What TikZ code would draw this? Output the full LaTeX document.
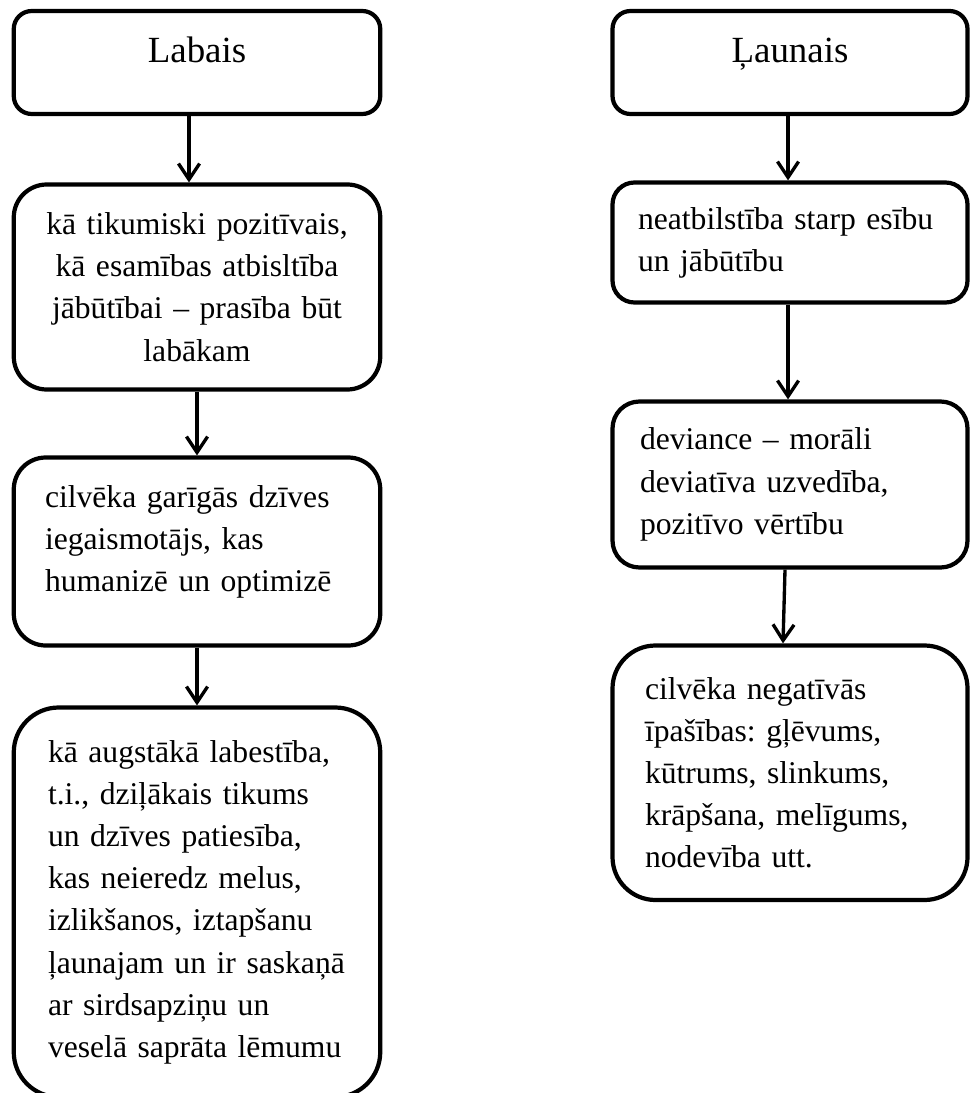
\documentclass[tikz,border=0pt]{standalone}
\usepackage{fontspec}
\setmainfont{Liberation Serif}
\usetikzlibrary{arrows.meta}
\usetikzlibrary{positioning}

\begin{document}
\begin{tikzpicture}[->,>={Straight Barb[length=9pt,width=12pt]},line width=1.9pt]

            % Define styles
            \tikzstyle{head} = [rectangle, draw, line width=2.4pt, rounded corners=0.36cm, text centered, minimum height=2.06cm, font=\fontsize{21}{25}\selectfont, text height=14pt, text depth=14pt]
            \tikzstyle{leftbox} = [rectangle, draw, line width=2.4pt, minimum width=7.33cm, font=\fontsize{18}{24}\selectfont\frenchspacing]
            \tikzstyle{rightbox} = [rectangle, draw, line width=2.4pt, minimum width=7.1cm, font=\fontsize{18}{24}\selectfont\frenchspacing]

            \useasboundingbox (0,0) rectangle (19.4,-21.86);

            % Labais
            \node[head, minimum width=7.33cm] (labais) at (3.94, -1.25) {Labais};
            \node[leftbox, rounded corners=0.66cm, minimum height=4.1cm, text width=7cm, align=center] (pozitivais) at (3.94, -5.74) {kā tikumiski pozitīvais,\\ kā esamības atbisltība\\ jābūtībai – prasība būt\\ labākam};
            \node[leftbox, rounded corners=0.64cm, minimum height=3.76cm, text width=6.08cm, align=left, text depth=63pt] (garigas) at (3.94, -11.03) {cilvēka garīgās dzīves\\ iegaismotājs, kas\\ humanizē un optimizē};
            \node[leftbox, rounded corners=0.9cm, minimum height=7.79cm, text width=5.96cm, align=left] (labestiba) at (3.94, -18.045) {kā augstākā labestība,\\ t.i., dziļākais tikums\\ un dzīves patiesība,\\ kas neieredz melus,\\ izlikšanos, iztapšanu\\ ļaunajam un ir saskaņā\\ ar sirdsapziņu un\\ veselā saprāta lēmumu};

            % Ļaunais
            \node[head, minimum width=7.1cm] (launais) at (15.8, -1.25) {Ļaunais};
            \node[rightbox, rounded corners=0.44cm, minimum height=2.4cm, text width=6.08cm, align=left] (neatbilstiba) at (15.8, -4.85) {neatbilstība starp esību\\ un jābūtību};
            \node[rightbox, rounded corners=0.54cm, minimum height=3.32cm, text width=6cm, align=left] (deviance) at (15.8, -9.69) {deviance – morāli\\ deviatīva uzvedība,\\ pozitīvo vērtību};
            \node[rightbox, rounded corners=0.86cm, minimum height=5.09cm, text width=5.8cm, align=left] (negativas) at (15.8, -15.455) {cilvēka negatīvās\\ īpašības: gļēvums,\\ kūtrums, slinkums,\\ krāpšana, melīgums,\\ nodevība utt.};

            % Arrows
            \draw[->] ([xshift=-0.16cm]labais.south) -- ([xshift=-0.16cm]pozitivais.north);
            \draw[->] (pozitivais) -- (garigas);
            \draw[->] (garigas) -- (labestiba);
            \draw[->] ([xshift=-0.04cm]launais.south) -- ([xshift=-0.04cm]neatbilstiba.north);
            \draw[->] ([xshift=-0.04cm]neatbilstiba.south) -- ([xshift=-0.04cm]deviance.north);
            \draw[->] ([xshift=-0.1cm]deviance.south) -- ([xshift=-0.14cm]negativas.north);

        \end{tikzpicture}
\end{document}
